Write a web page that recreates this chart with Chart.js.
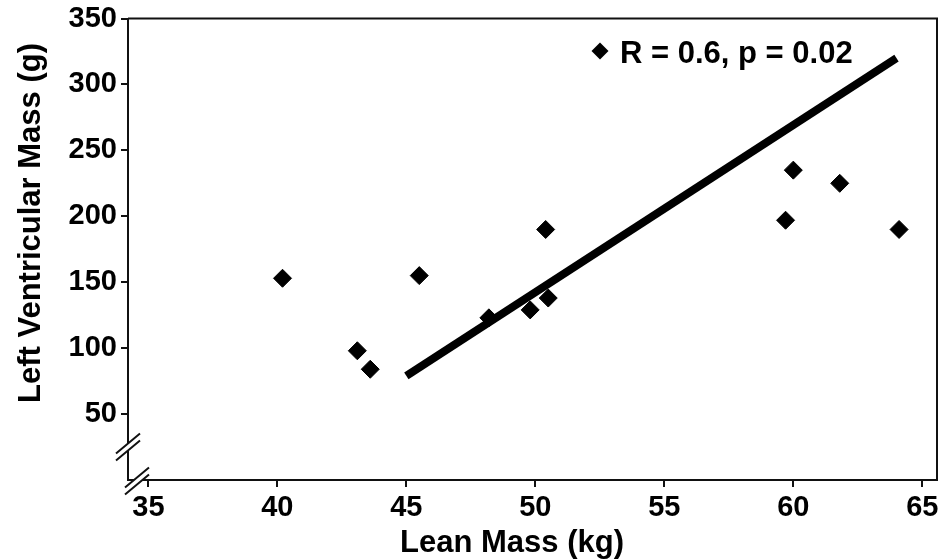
<!DOCTYPE html>
<html>
<head>
<meta charset="utf-8">
<script src="https://cdn.jsdelivr.net/npm/chart.js@4"></script>
<style>
  html, body { margin: 0; padding: 0; background: #fff; }
  #wrap { width: 947px; height: 560px; position: relative; }
</style>
</head>
<body>
<div id="wrap"><canvas id="lvChart"></canvas></div>
<script>
// data
const leanMass = [40.2, 43.1, 43.6, 45.5, 48.2, 49.8, 50.4, 50.5, 59.7, 60.0, 61.8, 64.1];
const lvMass = [153, 98, 84, 155, 123, 129, 190, 138, 197, 235, 225, 190];

// regression line end points
const fitX = [45, 64];
const fitY = [79, 320];

const xTicks = [35, 40, 45, 50, 55, 60, 65];
const yTicks = [50, 100, 150, 200, 250, 300, 350];

const statLabel = 'R = 0.6, p = 0.02';
const xTitle = 'Lean Mass (kg)';
const yTitle = 'Left Ventricular Mass (g)';

const FONT = '"Liberation Sans", Arial, Helvetica, sans-serif';
const INK = '#111';

// box, axis breaks, titles and the stat label
const extras = {
    id: 'extras',
    afterDraw(chart) {
        const { ctx, chartArea: a } = chart;
        ctx.save();
        ctx.strokeStyle = INK;
        ctx.lineWidth = 2;
        ctx.beginPath();
        ctx.moveTo(a.left, a.top);
        ctx.lineTo(a.right, a.top);
        ctx.lineTo(a.right, a.bottom);
        ctx.stroke();

        // break marks
        const brk = (cx, cy) => {
            const dx = 12, dy = -10, g = 3.5;
            ctx.fillStyle = '#fff';
            ctx.beginPath();
            ctx.moveTo(cx - dx * 0.8, cy - dy * 0.8 - g);
            ctx.lineTo(cx + dx * 0.8, cy + dy * 0.8 - g);
            ctx.lineTo(cx + dx * 0.8, cy + dy * 0.8 + g);
            ctx.lineTo(cx - dx * 0.8, cy - dy * 0.8 + g);
            ctx.closePath();
            ctx.fill();
            ctx.lineWidth = 2;
            ctx.beginPath();
            ctx.moveTo(cx - dx, cy - dy - g);
            ctx.lineTo(cx + dx, cy + dy - g);
            ctx.moveTo(cx - dx, cy - dy + g);
            ctx.lineTo(cx + dx, cy + dy + g);
            ctx.stroke();
        };
        brk(a.left, 447);
        brk(a.left + 9, a.bottom + 1);

        // stat label with marker
        const mx = 600, my = 51, r = 8.5;
        ctx.fillStyle = '#000';
        ctx.beginPath();
        ctx.moveTo(mx, my - r);
        ctx.lineTo(mx + r, my);
        ctx.lineTo(mx, my + r);
        ctx.lineTo(mx - r, my);
        ctx.closePath();
        ctx.fill();
        ctx.font = 'bold 31px ' + FONT;
        ctx.textAlign = 'left';
        ctx.textBaseline = 'alphabetic';
        ctx.fillText(statLabel, 620, 63);

        // axis titles
        ctx.textAlign = 'center';
        ctx.fillText(xTitle, 512, 552);
        ctx.translate(40, 223);
        ctx.rotate(-Math.PI / 2);
        ctx.fillText(yTitle, 0, 0);
        ctx.restore();
    }
};

const tickFont = { family: FONT, size: 29, weight: 'bold', lineHeight: 1 };

const ctx = document.getElementById('lvChart').getContext('2d');
const lvChart = new Chart(ctx, {
    type: 'scatter',
    data: {
        datasets: [{
            label: 'fit',
            type: 'line',
            data: fitX.map((x, i) => ({ x, y: fitY[i] })),
            borderColor: '#000',
            borderWidth: 8,
            pointRadius: 0,
            fill: false,
            order: 2
        }, {
            label: statLabel,
            data: leanMass.map((x, i) => ({ x, y: lvMass[i] })),
            pointStyle: 'rectRot',
            pointRadius: 9,
            backgroundColor: '#000',
            borderColor: '#000',
            borderWidth: 1,
            order: 1
        }]
    },
    options: {
        responsive: true,
        maintainAspectRatio: false,
        animation: false,
        layout: { padding: { top: 16, right: 4, left: 0, bottom: 0 } },
        plugins: { legend: { display: false }, tooltip: { enabled: false } },
        scales: {
            x: {
                type: 'linear',
                min: 34.21,
                max: 65.57,
                afterBuildTicks: s => { s.ticks = xTicks.map(v => ({ value: v })); },
                afterFit: s => { s.height = 80; },
                ticks: { color: '#000', font: tickFont, padding: 6 },
                grid: { drawOnChartArea: false, tickLength: 7, color: INK, lineWidth: 2 },
                border: { color: INK, width: 2 }
            },
            y: {
                min: 0,
                max: 350,
                afterBuildTicks: s => { s.ticks = yTicks.map(v => ({ value: v })); },
                afterFit: s => { s.width = 128; },
                ticks: { color: '#000', font: tickFont, padding: 4 },
                grid: { drawOnChartArea: false, tickLength: 7, color: INK, lineWidth: 2 },
                border: { color: INK, width: 2 }
            }
        }
    },
    plugins: [extras]
});
</script>
</body>
</html>
